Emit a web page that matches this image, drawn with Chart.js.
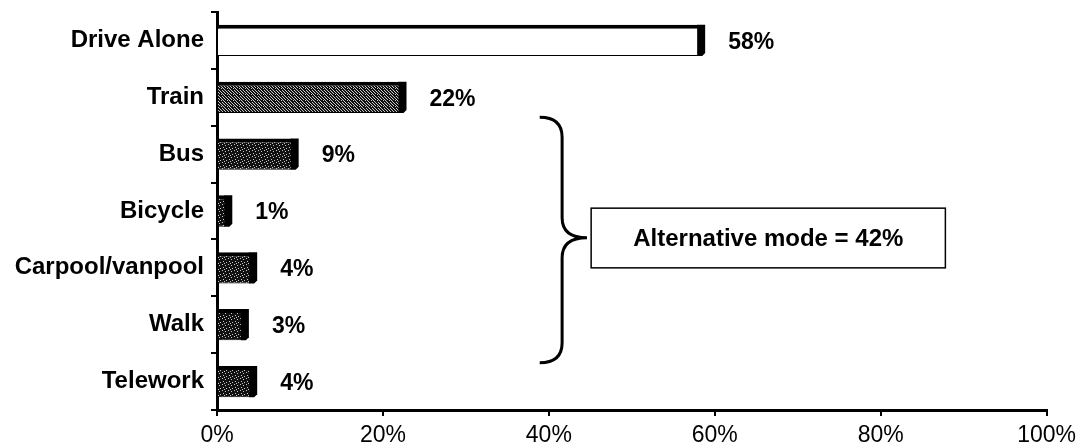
<!DOCTYPE html>
<html>
<head>
<meta charset="utf-8">
<script src="https://cdn.jsdelivr.net/npm/chart.js@4.4.1/dist/chart.umd.min.js"></script>
<style>
body { margin: 0; background: #fff; }
#wrap { width: 1082px; height: 448px; }
</style>
</head>
<body>
<div id="wrap"><canvas id="modos" width="1082" height="448"></canvas></div>
<script>
// dados do gráfico
var modos = ['Drive Alone', 'Train', 'Bus', 'Bicycle', 'Carpool/vanpool', 'Walk', 'Telework'];
var percentuais = [58, 22, 9, 1, 4, 3, 4];
var ticksX = [0, 20, 40, 60, 80, 100];
var textoCaixa = 'Alternative mode = 42%';

var fonte = "'Liberation Sans', Arial, sans-serif";

// textura granulada: fundo escuro com pontos claros
function textura(ctx, claros) {
	var c = document.createElement('canvas');
	c.width = 6; c.height = 6;
	var g = c.getContext('2d');
	g.fillStyle = '#111111';
	g.fillRect(0, 0, 6, 6);
	g.fillStyle = '#c8c8c8';
	claros.forEach(function (p) { g.fillRect(p[0], p[1], 1, 1); });
	return ctx.createPattern(c, 'repeat');
}

var canvas = document.getElementById('modos');
var ctx0 = canvas.getContext('2d');
var texturaClara = textura(ctx0, [[0, 0], [3, 0], [1, 1], [4, 1], [2, 2], [5, 2], [0, 3], [3, 3], [1, 4], [5, 4], [2, 5]]);
var texturaEscura = textura(ctx0, [[0, 0], [3, 1], [1, 3], [4, 4], [2, 5]]);
var cores = ['#ffffff', texturaClara, texturaEscura, texturaEscura, texturaEscura, texturaEscura, texturaEscura];

// sombra escura à direita de cada barra + rótulos de valor
var sombraRotulos = {
	id: 'sombraRotulos',
	afterDatasetsDraw: function (chart) {
		var ctx = chart.ctx;
		var meta = chart.getDatasetMeta(0);
		ctx.save();
		meta.data.forEach(function (bar, i) {
			var topo = bar.y - bar.height / 2;
			var base = bar.y + bar.height / 2;
			ctx.fillStyle = '#000';
			ctx.beginPath();
			ctx.moveTo(bar.x - 1, topo);
			ctx.lineTo(bar.x + 7, topo);
			ctx.lineTo(bar.x + 7, base - 3);
			ctx.lineTo(bar.x + 4, base);
			ctx.lineTo(bar.x - 1, base);
			ctx.closePath();
			ctx.fill();

			ctx.font = 'bold 23px ' + fonte;
			ctx.textAlign = 'left';
			ctx.textBaseline = 'middle';
			ctx.fillText(percentuais[i] + '%', bar.x + 30, bar.y + 2);
		});
		ctx.restore();
	}
};

// chave e caixa de texto dos modos alternativos
var chave = {
	id: 'chave',
	afterDraw: function (chart) {
		var ctx = chart.ctx;
		var sx = chart.scales.x, sy = chart.scales.y;
		var xEsq = sx.getPixelForValue(38.9);
		var xMeio = sx.getPixelForValue(41.6);
		var xPonta = sx.getPixelForValue(44.6);
		var yTopo = sy.getPixelForValue(1.35);
		var yPonta = sy.getPixelForValue(3.47);
		var yBase = sy.getPixelForValue(5.67);
		var r = 20;

		ctx.save();
		ctx.strokeStyle = '#000';
		ctx.lineWidth = 3;
		ctx.beginPath();
		ctx.moveTo(xEsq, yTopo);
		ctx.quadraticCurveTo(xMeio, yTopo, xMeio, yTopo + r);
		ctx.lineTo(xMeio, yPonta - r);
		ctx.quadraticCurveTo(xMeio, yPonta, xPonta, yPonta);
		ctx.quadraticCurveTo(xMeio, yPonta, xMeio, yPonta + r);
		ctx.lineTo(xMeio, yBase - r);
		ctx.quadraticCurveTo(xMeio, yBase, xEsq, yBase);
		ctx.stroke();

		var bx1 = sx.getPixelForValue(45.1), bx2 = sx.getPixelForValue(87.8);
		var by1 = sy.getPixelForValue(2.95), by2 = sy.getPixelForValue(4.0);
		ctx.fillStyle = '#fff';
		ctx.fillRect(bx1, by1, bx2 - bx1, by2 - by1);
		ctx.lineWidth = 1.5;
		ctx.strokeRect(bx1, by1, bx2 - bx1, by2 - by1);

		ctx.fillStyle = '#000';
		ctx.font = 'bold 24px ' + fonte;
		ctx.textAlign = 'center';
		ctx.textBaseline = 'middle';
		ctx.fillText(textoCaixa, (bx1 + bx2) / 2, (by1 + by2) / 2 + 1);
		ctx.restore();
	}
};

var graf = new Chart(canvas, {
	type: 'bar',
	data: {
		labels: modos,
		datasets: [{
			data: percentuais,
			backgroundColor: cores,
			borderColor: '#000',
			borderWidth: { top: 4, bottom: 1, left: 0, right: 0 },
			borderSkipped: false,
			barPercentage: 0.55,
			categoryPercentage: 1
		}]
	},
	options: {
		indexAxis: 'y',
		responsive: false,
		animation: false,
		layout: { padding: { top: 12, right: 34, left: 0, bottom: 0 } },
		plugins: { legend: { display: false }, tooltip: { enabled: false } },
		scales: {
			x: {
				min: 0,
				max: 100,
				afterBuildTicks: function (s) { s.ticks = ticksX.map(function (v) { return { value: v }; }); },
				ticks: {
					color: '#000',
					font: { family: fonte, size: 23 },
					padding: 6,
					maxRotation: 0,
					callback: function (v) { return v + '%'; }
				},
				grid: { drawOnChartArea: false, tickLength: 6, color: '#000', lineWidth: 2 },
				border: { color: '#000', width: 3 },
				afterFit: function (s) { s.height = 38; }
			},
			y: {
				grid: { offset: true, drawOnChartArea: false, tickLength: 6, color: '#000', lineWidth: 2 },
				border: { color: '#000', width: 3 },
				ticks: {
					color: '#000',
					font: { family: fonte, size: 24, weight: 'bold' },
					padding: 7
				},
				afterFit: function (s) { s.width = 217; s.paddingTop = 0; s.paddingBottom = 0; }
			}
		}
	},
	plugins: [sombraRotulos, chave]
});
</script>
</body>
</html>
